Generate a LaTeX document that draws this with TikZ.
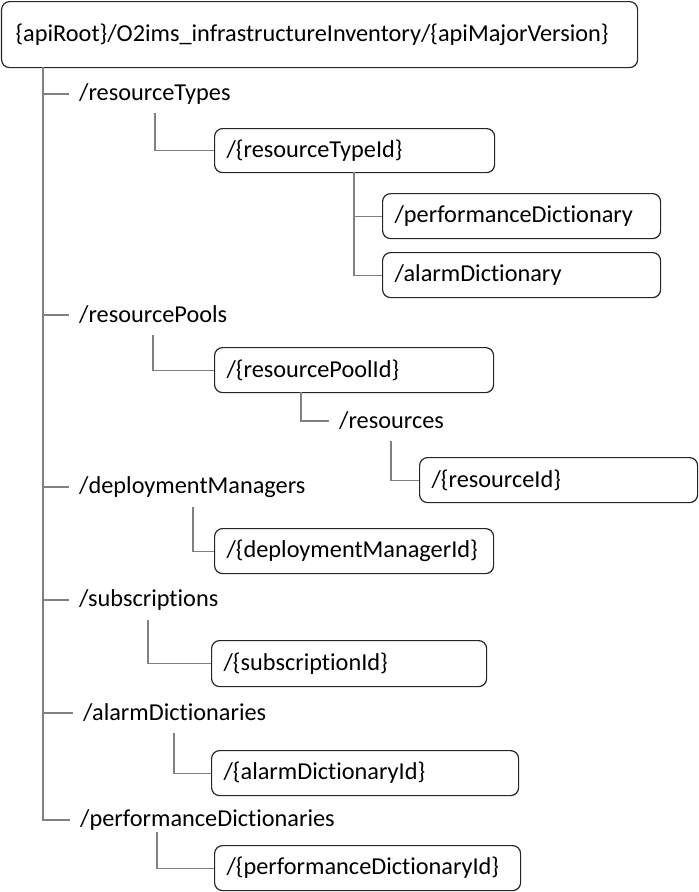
\documentclass[tikz,border=0pt]{standalone}
\usepackage{fontspec}
\setmainfont{Carlito}[Ligatures={NoCommon}]
\definecolor{boxline}{HTML}{262626}
\definecolor{treeline}{HTML}{808080}
\begin{document}
\begin{tikzpicture}
	[
	x=1pt, y=-1pt,
	font=\fontsize{24.3}{28}\selectfont,
	uribox/.style={draw=boxline, line width=1.2pt, rounded corners=8pt, anchor=north west,
		inner xsep=12pt, inner ysep=0pt, align=left, text width=#1, minimum height=45pt},
	seglabel/.style={anchor=west, inner xsep=10pt, inner ysep=0pt},
	treeedge/.style={draw=treeline, line width=1.1pt}
	]
		\useasboundingbox (0,0) rectangle (699,892);
		
		% root
		\node[uribox=608pt, inner xsep=14pt, minimum height=66pt] (root) at (1,1)
			{\{apiRoot\}/O2ims\_infrastructureInventory/\{apiMajorVersion\}};
		
		% level 1
		\node[seglabel] (rtypes) at (69,94) {/resourceTypes};
		\node[seglabel] (rpools) at (69,315) {/resourcePools};
		\node[seglabel] (dmgrs) at (69,487) {/deploymentManagers};
		\node[seglabel] (subs) at (69,600) {/subscriptions};
		\node[seglabel] (adicts) at (73,713) {/alarmDictionaries};
		\node[seglabel] (pdicts) at (70,820) {/performanceDictionaries};
		
		% level 2
		\node[uribox=256pt, minimum height=44pt] (rtypeid) at (214,128) {/\{resourceTypeId\}};
		\node[uribox=255pt] (rpoolid) at (214,347) {/\{resourcePoolId\}};
		\node[uribox=255pt] (dmgrid) at (214,528) {/\{deploymentManagerId\}};
		\node[uribox=251pt, minimum height=46pt] (subid) at (211,640) {/\{subscriptionId\}};
		\node[uribox=283pt] (adictid) at (211,750) {/\{alarmDictionaryId\}};
		\node[uribox=282pt] (pdictid) at (214,845) {/\{performanceDictionaryId\}};
		
		% level 3
		\node[uribox=254pt] (perfdict) at (382,193) {/performanceDictionary};
		\node[uribox=254pt] (alarmdict) at (382,252) {/alarmDictionary};
		\node[seglabel] (res) at (329,421) {/resources};
		
		% level 4
		\node[uribox=254pt] (resid) at (419,457) {/\{resourceId\}};
		
		% elbow starts
		\coordinate (t0) at (43,67);
		\coordinate (c1) at (155,113);
		\coordinate (c2) at (354,172);
		\coordinate (c3) at (153,335);
		\coordinate (c4) at (301,392);
		\coordinate (c5) at (391,441);
		\coordinate (c6) at (193,507);
		\coordinate (c7) at (148,620);
		\coordinate (c8) at (174,733);
		\coordinate (c9) at (157,832);
		
		% drawing code
		\foreach \to in {rtypes,rpools,dmgrs,subs,adicts,pdicts} \draw[treeedge] (t0) |- (\to.west);
		\foreach \from/\to in {c1/rtypeid,c2/perfdict,c2/alarmdict,c3/rpoolid,c4/res,c5/resid} \draw[treeedge] (\from) |- (\to.west);
		\foreach \from/\to in {c6/dmgrid,c7/subid,c8/adictid,c9/pdictid} \draw[treeedge] (\from) |- (\to.west);
	\end{tikzpicture}
\end{document}
